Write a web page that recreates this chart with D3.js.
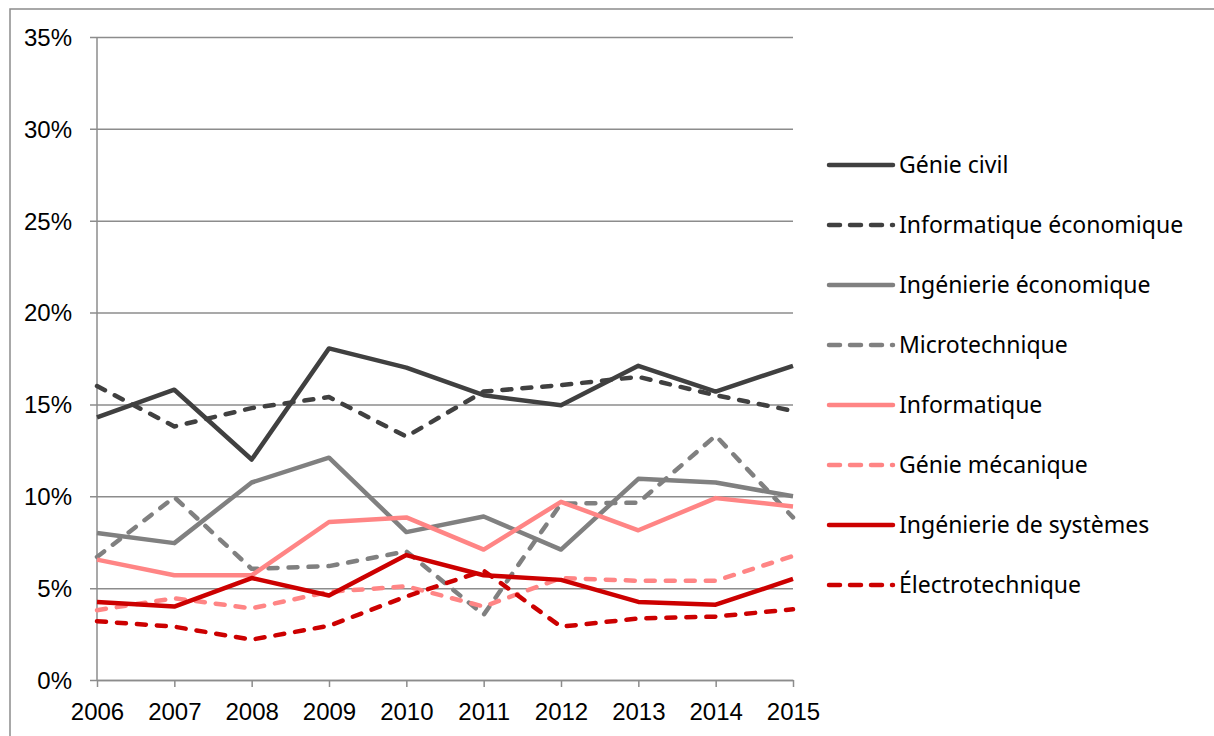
<!DOCTYPE html>
<html>
<head>
<meta charset="utf-8">
<script src="https://cdn.jsdelivr.net/npm/d3@7"></script>
<style>
  body { margin: 0; background: #fff; }
  svg { display: block; font-family: "Noto Sans", sans-serif; }
</style>
</head>
<body>
<div id="chart"></div>
<script>
// Share of students by field, 2006-2015
const years = [2006, 2007, 2008, 2009, 2010, 2011, 2012, 2013, 2014, 2015];
const yTicks = [0, 5, 10, 15, 20, 25, 30, 35];

const genieCivil        = [14.3, 15.8, 12.0, 18.05, 17.0, 15.5, 14.95, 17.1, 15.7, 17.1];
const infoEconomique    = [16.0, 13.8, 14.8, 15.4, 13.25, 15.7, 16.05, 16.5, 15.5, 14.65];
const ingEconomique     = [8.0, 7.45, 10.75, 12.1, 8.05, 8.9, 7.1, 10.95, 10.75, 10.0];
const microtechnique    = [6.7, 9.95, 6.05, 6.2, 7.0, 3.55, 9.6, 9.65, 13.3, 8.85];
const informatique      = [6.55, 5.7, 5.7, 8.6, 8.85, 7.1, 9.7, 8.15, 9.9, 9.45];
const genieMecanique    = [3.8, 4.45, 3.9, 4.8, 5.1, 4.0, 5.55, 5.4, 5.4, 6.75];
const ingSystemes       = [4.25, 4.0, 5.55, 4.6, 6.8, 5.7, 5.45, 4.25, 4.1, 5.5];
const electrotechnique  = [3.2, 2.9, 2.2, 2.95, 4.55, 5.95, 2.9, 3.35, 3.45, 3.85];

const series = [
    { name: "Génie civil", values: genieCivil, color: "#404040", dash: false },
    { name: "Informatique économique", values: infoEconomique, color: "#404040", dash: true },
    { name: "Ingénierie économique", values: ingEconomique, color: "#808080", dash: false },
    { name: "Microtechnique", values: microtechnique, color: "#808080", dash: true },
    { name: "Informatique", values: informatique, color: "#ff8585", dash: false },
    { name: "Génie mécanique", values: genieMecanique, color: "#ff8585", dash: true },
    { name: "Ingénierie de systèmes", values: ingSystemes, color: "#cc0000", dash: false },
    { name: "Électrotechnique", values: electrotechnique, color: "#cc0000", dash: true }
];

const W = 1214, H = 736;
const margin = { top: 37, right: 421, bottom: 56, left: 97 },
    width = W - margin.left - margin.right,
    height = H - margin.top - margin.bottom;

const root = d3.select("#chart")
    .append("svg")
    .attr("width", W)
    .attr("height", H);

// outer frame (runs off the right and bottom edge)
root.append("rect")
    .attr("x", 10)
    .attr("y", 9)
    .attr("width", W + 20)
    .attr("height", H + 20)
    .attr("fill", "none")
    .attr("stroke", "#8c8c8c")
    .attr("stroke-width", 1.5);

const svg = root.append("g")
    .attr("transform", `translate(${margin.left},${margin.top})`);

const x = d3.scaleLinear()
    .domain(d3.extent(years))
    .range([0, width]);

const y = d3.scaleLinear()
    .domain([0, 35])
    .range([height, 0]);

// gridlines + y axis
const yAxis = svg.append("g")
    .call(d3.axisLeft(y).tickValues(yTicks).tickSize(-width).tickSizeOuter(0)
        .tickFormat(d => d + "%"));
yAxis.select(".domain").remove();
yAxis.selectAll(".tick line")
    .attr("x1", -7)
    .attr("stroke", "#8c8c8c")
    .attr("stroke-width", 1.5);
yAxis.selectAll(".tick text")
    .attr("x", -25)
    .attr("dy", "0.35em")
    .attr("fill", "#000")
    .attr("font-size", 24);

// vertical axis line
svg.append("line")
    .attr("x1", 0).attr("x2", 0)
    .attr("y1", 0).attr("y2", height)
    .attr("stroke", "#8c8c8c")
    .attr("stroke-width", 1.5);

// x axis
const xAxis = svg.append("g")
    .attr("transform", `translate(0,${height})`)
    .call(d3.axisBottom(x).tickValues(years).tickSize(7).tickSizeOuter(0)
        .tickFormat(d3.format("d")));
xAxis.select(".domain")
    .attr("stroke", "#8c8c8c")
    .attr("stroke-width", 1.5);
xAxis.selectAll(".tick line")
    .attr("stroke", "#8c8c8c")
    .attr("stroke-width", 1.5);
xAxis.selectAll(".tick text")
    .attr("y", 32)
    .attr("dy", "0.35em")
    .attr("fill", "#000")
    .attr("font-size", 24);

const line = d3.line()
    .x((d, i) => x(years[i]))
    .y(d => y(d));

svg.selectAll(".series")
    .data(series)
    .join("path")
    .attr("class", "series")
    .attr("fill", "none")
    .attr("stroke", d => d.color)
    .attr("stroke-width", 4.5)
    .attr("stroke-linejoin", "round")
    .attr("stroke-linecap", d => d.dash ? "round" : "butt")
    .attr("stroke-dasharray", d => d.dash ? "9,11" : null)
    .attr("d", d => line(d.values));

// legend
const legend = root.append("g")
    .attr("transform", "translate(829,165)");

const item = legend.selectAll(".item")
    .data(series)
    .join("g")
    .attr("class", "item")
    .attr("transform", (d, i) => `translate(0,${i * 60})`);

item.append("line")
    .attr("x1", 0).attr("x2", 64)
    .attr("stroke", d => d.color)
    .attr("stroke-width", 4.5)
    .attr("stroke-linecap", "round")
    .attr("stroke-dasharray", d => d.dash ? "11,10" : null);

item.append("text")
    .attr("x", 70)
    .attr("dy", "0.35em")
    .attr("font-size", 23)
    .attr("fill", "#000")
    .text(d => d.name);
</script>
</body>
</html>
